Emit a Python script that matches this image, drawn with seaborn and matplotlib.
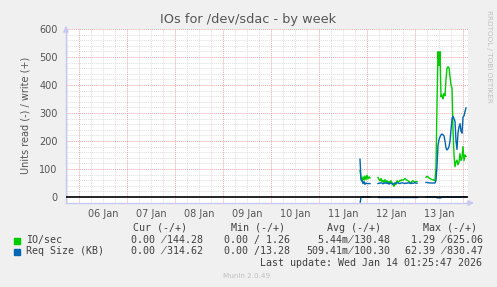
import numpy as np
import pandas as pd
import matplotlib
matplotlib.use("Agg")
import matplotlib.pyplot as plt
from matplotlib.patches import Rectangle
import seaborn as sns

# ---------------- data (hours since 06 Jan 00:00, 30-min samples) ----------------
day_labels = ["06 Jan", "07 Jan", "08 Jan", "09 Jan", "10 Jan", "11 Jan", "12 Jan", "13 Jan"]
series_names = ["IO/sec", "Req Size (KB)"]
series_colors = ["#00cc00", "#0066b3"]

seg_starts = [140.5, 149.5, 173.5]   # hour at which each sample run begins
step_h = 0.5

io_write_A = [95, 68, 56, 72, 60, 75, 62, 78, 65, 72, 68]
req_write_A = [135, 62, 58, 48, 55, 45, 50, 48, 48, 48, 48]
req_read_A = [-25, 0, 0, 0, 0, 0, 0, 0, 0, 0, 0]

io_write_B = [70, 62, 58, 66, 55, 60, 52, 62, 55, 58, 50, 56, 48, 58, 52, 45, 38, 50, 45, 58,
              52, 55, 60, 58, 62, 60, 63, 66, 62, 60, 58, 55, 52, 50, 56, 58, 55, 52, 56, 55]
req_write_B = [48, 50, 49, 51, 50, 47, 50, 49, 52, 48, 50, 46, 50, 49, 47, 45, 48, 50, 49, 51,
               50, 49, 48, 50, 51, 50, 49, 48, 50, 49, 51, 50, 49, 48, 50, 49, 50, 51, 50, 49]
req_read_B = [0] * 40

io_write_C = [70, 74, 72, 68, 66, 64, 62, 62, 60, 58, 110,
              330, 519, 470, 519, 358, 365, 350, 370, 362, 420, 460, 465, 462, 430, 400, 390,
              240, 150, 108, 125, 132, 115, 125, 155, 130, 140, 180, 130, 150, 145]
req_write_C = [52, 52, 51, 51, 50, 50, 50, 50, 50, 50, 60,
               110, 185, 205, 215, 222, 225, 222, 218, 200, 175, 168, 172, 180, 200, 240, 280,
               288, 280, 270, 200, 170, 230, 250, 262, 235, 228, 285, 290, 305, 318]
req_read_C = [0] * 11 + [-3, -3, -3, -3, -3] + [0] * 25

SL = "\u0338"  # combining long solidus overlay (the "/" squeezed onto the next digit)
legend_rows = [
    ("IO/sec", "  0.00 " + SL + "144.28", "  0.00 / 1.26", "  5.44m" + SL + "130.48",
     "  1.29 " + SL + "625.06"),
    ("Req Size (KB)", "  0.00 " + SL + "314.62", "  0.00 /13.28", "509.41m" + SL + "100.30",
     " 62.39 " + SL + "830.47"),
]
col_headers = ["Cur (-/+)", "Min (-/+)", "Avg (-/+)", "Max (-/+)"]
title = "IOs for /dev/sdac - by week"
ylabel = "Units read (-) / write (+)"
last_update = "Last update: Wed Jan 14 01:25:47 2026"

# ---------------- build long table ----------------
rows = []
segments = [
    (seg_starts[0], io_write_A, req_write_A, req_read_A),
    (seg_starts[1], io_write_B, req_write_B, req_read_B),
    (seg_starts[2], io_write_C, req_write_C, req_read_C),
]
for si, (t0, io_w, rq_w, rq_r) in enumerate(segments):
    for name, vals, kind in [("IO/sec", io_w, "w"), ("Req Size (KB)", rq_w, "w"),
                             ("Req Size (KB)", rq_r, "r")]:
        for i, v in enumerate(vals):
            rows.append({"t": t0 + i * step_h, "value": v, "series": name,
                         "unit": f"{name}-{si}-{kind}"})
df = pd.DataFrame(rows)

# ---------------- figure ----------------
W, H = 497, 287
BG = "#f0f0f0"
fig = plt.figure(figsize=(W / 100, H / 100), dpi=100, facecolor=BG)
L, R, T, B = 66, 468, 28.5, 203
ax = fig.add_axes([L / W, 1 - B / H, (R - L) / W, (B - T) / H])
ax.set_facecolor("white")

# grid
minor_x = np.arange(-6, 195, 6)
major_x = np.arange(0, 195, 24)
for x in minor_x:
    if x % 24 != 0:
        ax.axvline(x, color="#dedede", lw=0.7, ls=(0, (1, 1)), zorder=0)
for y in np.arange(20, 601, 20):
    if y % 100 != 0:
        ax.axhline(y, color="#dedede", lw=0.7, ls=(0, (1, 1)), zorder=0)
for x in major_x:
    ax.axvline(x, color="#eaa8a8", lw=0.7, ls=(0, (1, 1)), zorder=0.5)
for y in np.arange(100, 601, 100):
    ax.axhline(y, color="#eaa8a8", lw=0.7, ls=(0, (1, 1)), zorder=0.5)

sns.lineplot(data=df, x="t", y="value", hue="series", units="unit", estimator=None,
             palette=dict(zip(series_names, series_colors)), hue_order=series_names,
             legend=False, lw=1.0, ax=ax, zorder=2)
ax.axhline(0, color="black", lw=1.2, zorder=3)

ax.set_xlim(-6.5, 194.5)
ax.set_ylim(-21.4, 601.8)
ax.set_xticks(np.arange(12, 12 + 24 * len(day_labels), 24))
ax.set_xticklabels(day_labels)
ax.set_yticks(np.arange(0, 601, 100))
ax.tick_params(axis="both", length=0, labelsize=7, colors="#555555")
ax.tick_params(axis="y", pad=6)
ax.tick_params(axis="x", pad=4)
ax.set_xlabel("")
ax.set_ylabel(ylabel, fontsize=7, color="#555555", labelpad=6)
for s in ["top", "right"]:
    ax.spines[s].set_visible(False)
for s in ["left", "bottom"]:
    ax.spines[s].set_color("#c8c8f0")
    ax.spines[s].set_linewidth(1.0)

# axis arrows
ax.annotate("", xy=(0, 1.03), xytext=(0, 0.99), xycoords="axes fraction",
            arrowprops=dict(arrowstyle="-|>", color="#c8c8f0", lw=1, mutation_scale=8),
            annotation_clip=False)
ax.annotate("", xy=(1.022, 0), xytext=(0.99, 0), xycoords="axes fraction",
            arrowprops=dict(arrowstyle="-|>", color="#c8c8f0", lw=1, mutation_scale=8),
            annotation_clip=False)

# title and side text
fig.text(248 / W, 1 - 20 / H, title, ha="center", va="center", fontsize=9.3, color="#555555")
fig.text(489 / W, 1 - 56 / H, "RRDTOOL / TOBI OETIKER", rotation=-90, ha="center", va="center",
         fontsize=5.2, color="#c0c0c0")
fig.text(223 / W, 1 - 276 / H, "Munin 2.0.49", ha="left", va="center", fontsize=5.2, color="#c0c0c0")

# legend block
mono = "DejaVu Sans Mono"
fs = 7.2
tc = "#404040"
header_x = [133, 231, 327, 423]
for hx, h in zip(header_x, col_headers):
    fig.text(hx / W, 1 - 228 / H, h, ha="left", va="center", family=mono, fontsize=fs, color=tc)
field_x = [119, 212, 306, 399]
row_y = [240, 251]
for (name, *vals), ry, col in zip(legend_rows, row_y, series_colors):
    fig.patches.append(Rectangle((14 / W, 1 - (ry + 3.5) / H), 6 / W, 6 / H,
                                 transform=fig.transFigure, facecolor=col, edgecolor=col))
    fig.text(26 / W, 1 - ry / H, name, ha="left", va="center", family=mono, fontsize=fs, color=tc)
    for fx, v in zip(field_x, vals):
        fig.text(fx / W, 1 - ry / H, v, ha="left", va="center", family=mono, fontsize=fs, color=tc)
fig.text(482 / W, 1 - 263 / H, last_update, ha="right", va="center", family=mono, fontsize=fs,
         color=tc)

fig.savefig("out.png", dpi=100, facecolor=BG)
